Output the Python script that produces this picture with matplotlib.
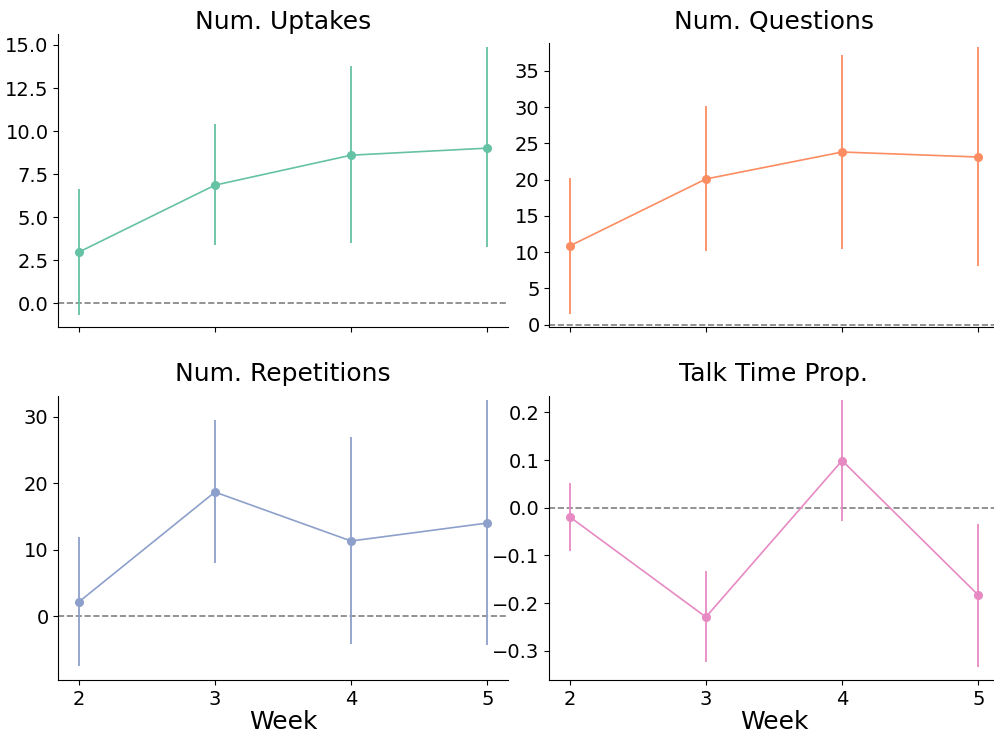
import matplotlib
matplotlib.use("Agg")
import matplotlib.pyplot as plt
import numpy as np

weeks = [2, 3, 4, 5]

uptakes_mean = [2.97, 6.86, 8.60, 9.01]
uptakes_lo = [-0.70, 3.37, 3.49, 3.26]
uptakes_hi = [6.63, 10.40, 13.78, 14.88]

questions_mean = [10.86, 20.1, 23.82, 23.13]
questions_lo = [1.48, 10.17, 10.44, 8.1]
questions_hi = [20.24, 30.17, 37.2, 38.3]

repetitions_mean = [2.15, 18.68, 11.32, 14.02]
repetitions_lo = [-7.47, 8.01, -4.16, -4.31]
repetitions_hi = [11.92, 29.5, 26.95, 32.5]

talk_mean = [-0.019, -0.229, 0.099, -0.183]
talk_lo = [-0.090, -0.324, -0.027, -0.334]
talk_hi = [0.053, -0.133, 0.226, -0.033]

titles = ["Num. Uptakes", "Num. Questions", "Num. Repetitions", "Talk Time Prop."]
colors = ["#66c2a5", "#fc8d62", "#8da0cb", "#e78ac3"]

series = [
    (uptakes_mean, uptakes_lo, uptakes_hi),
    (questions_mean, questions_lo, questions_hi),
    (repetitions_mean, repetitions_lo, repetitions_hi),
    (talk_mean, talk_lo, talk_hi),
]

fig = plt.figure(figsize=(9.95, 7.35), dpi=100)
W, H = 995.0, 735.0
# axes boxes in pixels: (left, top, right, bottom)
boxes = [
    (58.3, 34.3, 507.7, 327.5),
    (549.3, 43.3, 998.7, 327.5),
    (58.3, 395.7, 507.7, 680.0),
    (549.3, 395.7, 998.7, 680.0),
]
title_pads = [3.3, 10.5, 10.5, 10.5]
axes = []
for (l, t, r, b) in boxes:
    axes.append(fig.add_axes([l / W, 1 - b / H, (r - l) / W, (b - t) / H]))

for ax, title, color, (m, lo, hi), tp in zip(axes, titles, colors, series, title_pads):
    ax.axhline(0, color="gray", linestyle="--", linewidth=1.2, zorder=1)
    ax.vlines(weeks, lo, hi, color=color, linewidth=1.3, zorder=2)
    ax.plot(weeks, m, color=color, linewidth=1.2, marker="o", markersize=5.5, zorder=3)
    ax.set_title(title, fontsize=18, pad=tp)
    ax.tick_params(labelsize=14)
    ax.spines["top"].set_visible(False)
    ax.spines["right"].set_visible(False)
    ax.set_xlim(1.85, 5.15)
    ax.set_xticks(weeks)

axes[0].set_yticks(np.arange(0, 15.1, 2.5))
axes[0].set_ylim(-1.405, 15.62)
axes[1].set_yticks(np.arange(0, 36, 5))
axes[1].set_ylim(-0.39, 38.82)
axes[2].set_yticks([0, 10, 20, 30])
axes[2].set_ylim(-9.57, 33.16)
axes[3].set_yticks([-0.3, -0.2, -0.1, 0.0, 0.1, 0.2])
axes[3].set_ylim(-0.361, 0.235)

for ax in axes[:2]:
    ax.set_xticklabels([])
for ax in axes[2:]:
    ax.set_xlabel("Week", fontsize=18, labelpad=1)
    ax.set_xticklabels([str(w) for w in weeks])

fig.savefig("out.png", dpi=100)
